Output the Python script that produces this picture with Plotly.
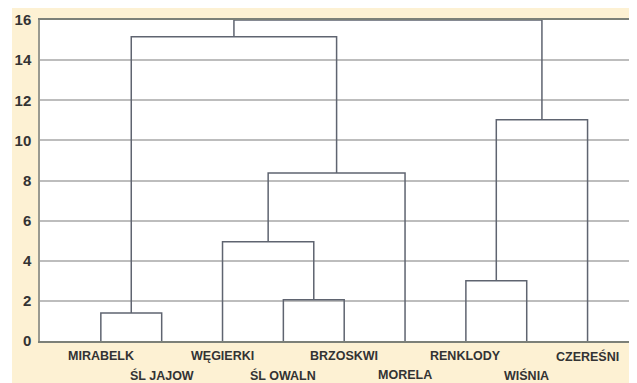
import plotly.graph_objects as go

# ---- data ----
leaves = ["MIRABELK", "ŚL JAJOW", "WĘGIERKI", "ŚL OWALN", "BRZOSKWI",
          "MORELA", "RENKLODY", "WIŚNIA", "CZEREŚNI"]
# linkage: (left cluster, right cluster, height); leaves 0..8, new clusters 9..
merge_a = [0, 3, 6, 2, 12, 11, 9, 15]
merge_b = [1, 4, 7, 10, 5, 8, 13, 14]
merge_h = [1.4, 2.05, 3.0, 4.95, 8.38, 11.03, 15.17, 16.0]
y_ticks = [0, 2, 4, 6, 8, 10, 12, 14, 16]

# ---- build dendrogram ----
pos = {i: i + 1 for i in range(len(leaves))}
hgt = {i: 0.0 for i in range(len(leaves))}
xs, ys = [], []
for k, (a, b, h) in enumerate(zip(merge_a, merge_b, merge_h)):
    xa, xb = pos[a], pos[b]
    xs += [xa, xa, xb, xb, None]
    ys += [hgt[a], h, h, hgt[b], None]
    nid = len(leaves) + k
    pos[nid] = (xa + xb) / 2
    hgt[nid] = h

fig = go.Figure()
fig.add_trace(go.Scatter(x=xs, y=ys, mode="lines",
                         line=dict(color="#5f6470", width=1.5),
                         hoverinfo="skip", showlegend=False, cliponaxis=False))

# page has an 8px body margin; figure is sized to fit the 637x383 window
W, H = 629, 375
ml, mt, mb = 32, 12, 42
pw = W - ml
ph = H - mt - mb
unit = 60.84
xmax = pw / unit

lab_font = dict(family="Liberation Sans, Arial, sans-serif", size=12.5, color="#333333")
ann = []
for i, name in enumerate(leaves):
    ann.append(dict(x=i + 1, y=0, xref="x", yref="paper", text="<b>%s</b>" % name,
                    showarrow=False, xanchor="center", yanchor="middle",
                    yshift=-15 if i % 2 == 0 else -34, font=lab_font))

fig.update_layout(
    width=W, height=H,
    margin=dict(l=ml, r=0, t=mt, b=mb, autoexpand=False),
    paper_bgcolor="#fdf1d3", plot_bgcolor="white",
    annotations=ann,
    shapes=[dict(type="rect", xref="paper", yref="paper",
                 x0=-ml / pw - 0.01, x1=(4 - ml) / pw, y0=-mb / ph - 0.01, y1=1 + mt / ph + 0.01,
                 fillcolor="white", line=dict(width=0), layer="below")],
    xaxis=dict(range=[0, xmax], showgrid=False, zeroline=False, showticklabels=False,
               showline=True, linecolor="#7c8078", linewidth=1.5, mirror=True,
               ticks=""),
    yaxis=dict(range=[0, 16], tickvals=y_ticks, ticktext=["<b>%d</b>" % v for v in y_ticks],
               showgrid=True, gridcolor="#bdbdbd", gridwidth=1.5, zeroline=False,
               showline=True, linecolor="#9a9a90", linewidth=1.5, mirror=True,
               ticks="", ticklabelstandoff=4, automargin=False,
               tickfont=dict(family="Liberation Sans, Arial, sans-serif",
                             size=15, color="#333333")),
)
fig.write_html("out.html")
